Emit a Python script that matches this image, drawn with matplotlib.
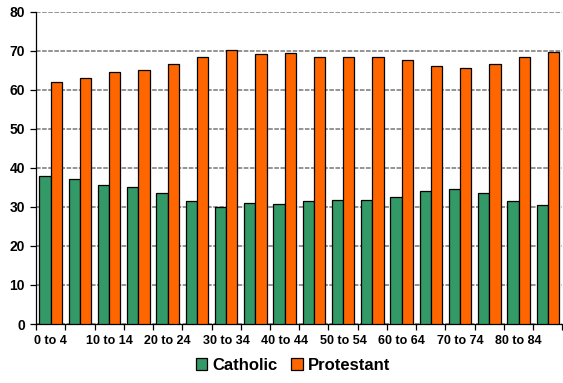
import numpy as np
import matplotlib.pyplot as plt

# age bands, 5-year groups
age_groups = ["0 to 4", "5 to 9", "10 to 14", "15 to 19", "20 to 24", "25 to 29",
              "30 to 34", "35 to 39", "40 to 44", "45 to 49", "50 to 54", "55 to 59",
              "60 to 64", "65 to 69", "70 to 74", "75 to 79", "80 to 84", "85+"]
catholic = [38.0, 37.1, 35.6, 35.1, 33.6, 31.5, 30.0, 30.9, 30.7, 31.5,
            31.7, 31.7, 32.5, 34.1, 34.5, 33.5, 31.5, 30.6]
protestant = [62.1, 63.1, 64.6, 65.1, 66.6, 68.5, 70.2, 69.2, 69.4, 68.5,
              68.4, 68.4, 67.6, 66.0, 65.6, 66.6, 68.5, 69.6]

plt.rcParams['font.family'] = ['Liberation Sans', 'DejaVu Sans']

fig = plt.figure(figsize=(5.63, 3.83), dpi=100)
ax = fig.add_axes([0.064, 0.154, 0.935, 0.815])

x = np.arange(len(age_groups))
w = 0.385
ax.bar(x - w / 2, catholic, w, color='#339966', edgecolor='black', linewidth=0.9,
       label='Catholic', zorder=3)
ax.bar(x + w / 2, protestant, w, color='#FF6600', edgecolor='black', linewidth=0.9,
       label='Protestant', zorder=3)

ax.set_xlim(-0.5, len(age_groups) - 0.5)
ax.set_ylim(0, 80)
ax.set_yticks(range(0, 81, 10))

# labels on every other band, tick marks between bands
ax.set_xticks(x[::2])
ax.set_xticklabels(age_groups[::2], fontsize=9, fontweight='bold')
ax.set_xticks(np.arange(-0.5, len(age_groups), 1), minor=True)
ax.tick_params(axis='x', which='major', length=0, pad=8)
ax.tick_params(axis='x', which='minor', length=4, width=0.9, direction='out')
ax.tick_params(axis='y', length=4, width=0.9, labelsize=10, pad=4)
for lbl in ax.get_yticklabels():
    lbl.set_fontweight('bold')

ax.yaxis.grid(True, color='#777777', linestyle=(0, (3, 1)), linewidth=1.1, zorder=0)
ax.spines['top'].set_visible(False)
ax.spines['right'].set_visible(False)
ax.spines['left'].set_linewidth(0.9)
ax.spines['bottom'].set_linewidth(0.9)

leg = fig.legend(loc='lower center', bbox_to_anchor=(0.52, -0.012), ncol=2, frameon=False,
                 prop={'size': 12, 'weight': 'bold'}, handlelength=0.7, handleheight=0.7,
                 handletextpad=0.3, columnspacing=0.8)

fig.savefig('out.png', dpi=100)
